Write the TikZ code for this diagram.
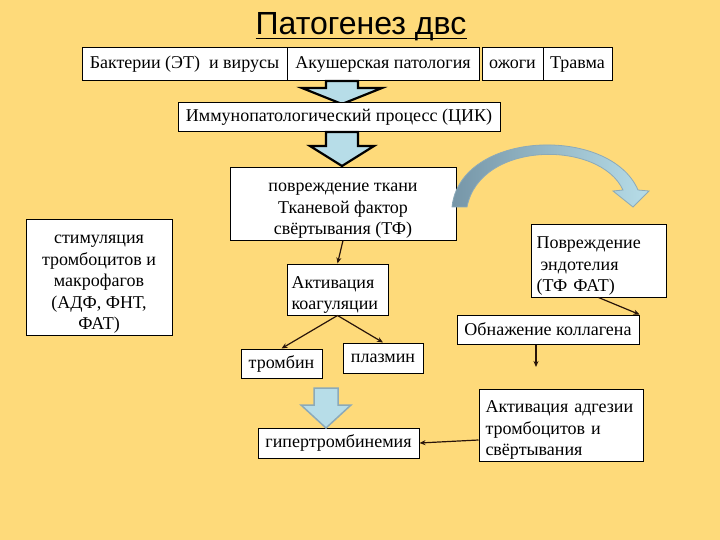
\documentclass[tikz,border=0pt]{standalone}
\usepackage{fontspec}
\setmainfont{Liberation Serif}
\newfontfamily\titlefont{Liberation Sans}
\usetikzlibrary{arrows.meta,calc}
\definecolor{bg}{RGB}{254,218,122}
\definecolor{lblue}{RGB}{183,221,232}
\definecolor{dblue}{RGB}{118,150,168}
\definecolor{aline}{RGB}{140,170,185}
\definecolor{cline}{RGB}{40,20,10}
\newcommand\mystrut{\rule{0pt}{22.5pt}}
\begin{document}
\begin{tikzpicture}[x=1pt,y=-1pt,
  box/.style={draw=black,fill=white,line width=1pt,inner sep=0pt,font=\fontsize{18}{21.5}\selectfont,align=center},
  lbox/.style={box,align=left},
  conn/.style={draw=cline,line width=1.2pt,-{Stealth[length=6pt,width=5pt]}},
  blockarrow/.style={fill=lblue,draw=black,line width=2.2pt,line join=miter},
  lightarrow/.style={fill=lblue,draw=aline,line width=1.5pt,line join=miter}]
\useasboundingbox (0,0) rectangle (720,540);
\fill[bg] (0,0) rectangle (720,540);

% title
\node[anchor=base,inner sep=0pt,font=\titlefont\fontsize{32}{36}\selectfont] (title) at (361,35) {Патогенез двс};
\draw[line width=1.8pt] ([yshift=-3.5pt]title.base west) -- ([yshift=-3.5pt]title.base east);

% top row
\node[box,minimum width=205pt,minimum height=33pt] (b1) at (184.5,64.5) {Бактерии (ЭТ)\ \ и вирусы};
\node[box,minimum width=192pt,minimum height=33pt] (b2) at (383,64.5) {Акушерская патология};
\node[box,minimum width=61pt,minimum height=33pt] (b3) at (512.5,64.5) {ожоги};
\node[box,minimum width=69pt,minimum height=33pt] (b4) at (577.5,64.5) {Травма};

% block arrows
\filldraw[blockarrow] (326,81) -- (358,81) -- (358,88) -- (382,88) -- (342,104) -- (302,88) -- (326,88) -- cycle;
\node[box,minimum width=322pt,minimum height=29pt] (imm) at (339,117.5) {Иммунопатологический процесс (ЦИК)};
\filldraw[blockarrow] (326,132) -- (358,132) -- (358,146) -- (374,146) -- (342,166) -- (310,146) -- (326,146) -- cycle;

% boxes
\node[box,minimum width=226pt,minimum height=72pt] (tf) at (343,204) {\mystrut повреждение ткани\\Тканевой фактор\\свёртывания (ТФ)};
\node[box,minimum width=146pt,minimum height=115pt] (stim) at (99,277.5) {\mystrut стимуляция\\тромбоцитов и\\макрофагов\\(АДФ, ФНТ,\\ФАТ)};
\node[lbox,text width=92pt,inner xsep=4.5pt,minimum height=51pt] (act) at (337.5,289.5) {\mystrut Активация\\коагуляции};
\node[box,minimum width=81pt,minimum height=29pt] (thromb) at (281.5,363.5) {тромбин};
\node[box,minimum width=80pt,minimum height=30pt] (plasm) at (383,358) {плазмин};
\node[box,minimum width=161pt,minimum height=30pt] (hyper) at (338.5,443) {гипертромбинемия};
\node[lbox,text width=124pt,inner xsep=5.5pt,minimum height=72pt] (endo) at (598.5,261) {\mystrut Повреждение\\\hspace*{4pt}эндотелия\\(ТФ ФАТ)};
\node[box,minimum width=182pt,minimum height=29pt] (coll) at (548,329.5) {Обнажение коллагена};
\node[lbox,text width=151pt,inner xsep=6.5pt,minimum height=72pt] (adh) at (561,425) {\mystrut Активация адгезии\\тромбоцитов и\\свёртывания};

% light block arrow
\filldraw[lightarrow] (314,388) -- (338,388) -- (338,405) -- (351,405) -- (326,428) -- (301,405) -- (314,405) -- cycle;

% curved arrow
\shadedraw[left color=dblue,right color=lblue,draw=aline,line width=0.8pt]
  (452,207) .. controls (460,130) and (610,125) .. (638,190) -- (649,191) -- (633,207) -- (613,191) -- (623,190)
  .. controls (600,140) and (480,140) .. (467,207) -- cycle;

% connectors
\draw[conn] (tf.south) -- (act.north);
\draw[conn] (act.south) -- (thromb.north);
\draw[conn] (act.south) -- (plasm.north);
\draw[conn] (endo.south) -- (coll.north east);
\coordinate (collend) at (536,367);
\draw[conn] (coll.south -| collend) -- (collend);
\draw[conn] ($(adh.west)+(0,15)$) -- (hyper.east);
\end{tikzpicture}
\end{document}
